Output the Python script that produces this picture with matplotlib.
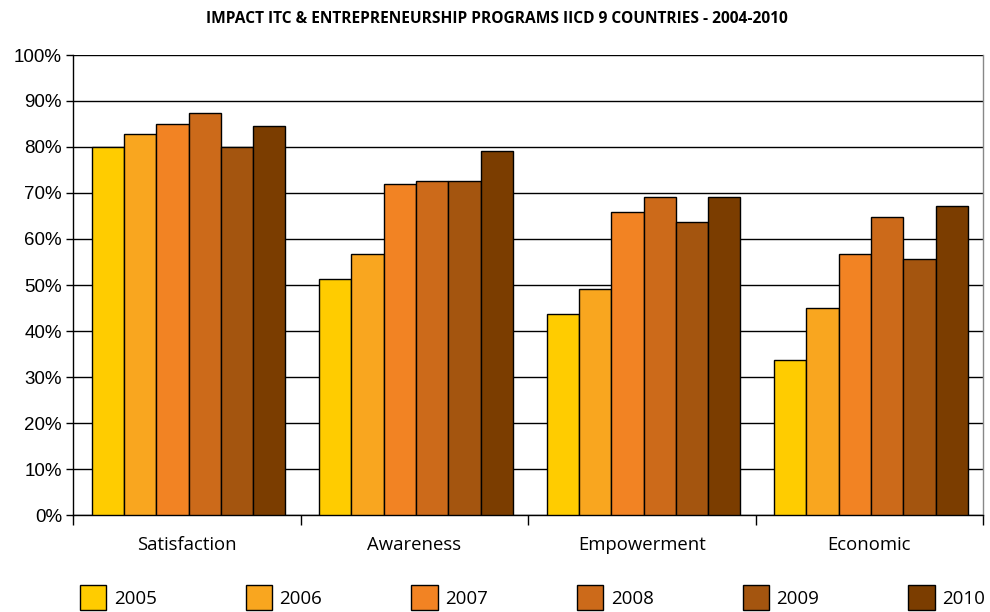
import matplotlib
matplotlib.use("Agg")
import matplotlib.pyplot as plt
import numpy as np

categories = ["Satisfaction", "Awareness", "Empowerment", "Economic"]
years = ["2005", "2006", "2007", "2008", "2009", "2010"]
values_2005 = [80.0, 51.2, 43.6, 33.8]
values_2006 = [82.8, 56.8, 49.1, 45.1]
values_2007 = [85.1, 71.9, 65.9, 56.8]
values_2008 = [87.4, 72.6, 69.2, 64.8]
values_2009 = [80.0, 72.6, 63.8, 55.7]
values_2010 = [84.6, 79.1, 69.2, 67.2]
series = [values_2005, values_2006, values_2007, values_2008, values_2009, values_2010]
colors = ["#FFCC00", "#F9A61F", "#F28323", "#CC6A1A", "#A4550F", "#7B3D00"]
yticks = list(range(0, 101, 10))
title = "IMPACT ITC & ENTREPRENEURSHIP PROGRAMS IICD 9 COUNTRIES - 2004-2010"

fig = plt.figure(figsize=(9.9, 6.12), dpi=100)
ax = fig.add_axes([73/990, 1-515/612, 910/990, 460/612])

x = np.arange(len(categories))
bw = 0.142
for i, (vals, c, yr) in enumerate(zip(series, colors, years)):
    ax.bar(x + (i - 2.5) * bw + 0.008, vals, bw, color=c, edgecolor="black",
           linewidth=1.0, label=yr, zorder=3)

ax.set_xlim(-0.5, len(categories) - 0.5)
ax.set_ylim(0, 100)
ax.set_yticks(yticks)
ax.set_yticklabels([f"{t}%" for t in yticks], fontfamily="Liberation Sans", fontsize=13.5)
ax.yaxis.grid(True, color="black", linewidth=1.0, zorder=0)
ax.set_axisbelow(True)
ax.set_xticks(x)
ax.set_xticklabels(categories, fontfamily="Open Sans", fontsize=13.3)
ax.tick_params(axis="x", length=0, pad=15)
ax.set_xticks(np.arange(-0.5, len(categories)), minor=True)
ax.tick_params(axis="x", which="minor", length=7, width=1, color="black")
ax.tick_params(axis="y", length=5, width=1, color="black", pad=3)
for s in ["left", "bottom"]:
    ax.spines[s].set_linewidth(1.0)
    ax.spines[s].set_color("black")
ax.spines["top"].set_visible(False)
ax.spines["right"].set_color("#888888")
ax.spines["right"].set_linewidth(1.0)

fig.text(497/990, 1-19/612, title, ha="center", va="center",
         fontfamily="Open Sans", fontweight="bold", fontsize=11.2)

handles, labels = ax.get_legend_handles_labels()
leg = fig.legend(handles, labels, ncol=6, loc="lower left",
                 bbox_to_anchor=(80/990, 0.004, 905/990, 0.06), mode="expand",
                 frameon=False, prop={"family": "Open Sans", "size": 13.5},
                 handlelength=1.4, handleheight=1.6, handletextpad=0.4,
                 borderaxespad=0, borderpad=0)

fig.savefig("out.png", dpi=100)
